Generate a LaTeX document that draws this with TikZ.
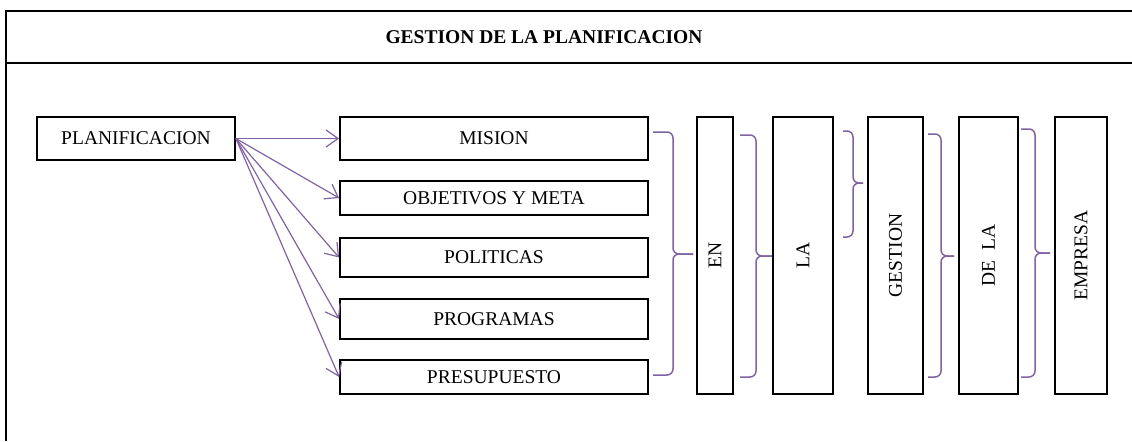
\documentclass[tikz,border=0pt]{standalone}
\usepackage{fontspec}
\setmainfont{Liberation Serif}
\usetikzlibrary{arrows.meta}
\definecolor{wordpurple}{RGB}{128,100,162}

\begin{document}
\begin{tikzpicture}[x=0.5pt, y=-0.5pt,
  every node/.style={font=\fontsize{9.75}{12}\selectfont},
  box/.style={draw, line width=0.9pt, inner sep=0pt, align=center},
  wordbox/.style={box, rotate=90, minimum width=138.5pt},
  arrow/.style={-{Straight Barb[length=6pt, width=8.5pt]}, wordpurple, line width=0.6pt},
  brace/.style={wordpurple, line width=0.75pt, rounded corners=3pt}]

  \useasboundingbox (0,0) rectangle (1132,441);

  %% Frame and title
  \draw[line width=0.9pt] (1132,11) -- (6,11) -- (6,441);
  \draw[line width=0.9pt] (6,63) -- (1132,63);
  \node[font=\fontsize{9.75}{12}\selectfont\bfseries] (title) at (544,37) {GESTION DE LA PLANIFICACION};

  %% Left: planificacion and its parts
  \node[box, minimum width=99pt, minimum height=21.5pt] (plan) at (136,138.5) {PLANIFICACION};
  \node[box, minimum width=154pt, minimum height=21.5pt] (mision) at (494,138.5) {MISION};
  \node[box, minimum width=154pt, minimum height=17pt] (objetivos) at (494,198) {OBJETIVOS Y META};
  \node[box, minimum width=154pt, minimum height=19.5pt] (politicas) at (494,257.5) {POLITICAS};
  \node[box, minimum width=154pt, minimum height=20pt] (programas) at (494,319) {PROGRAMAS};
  \node[box, minimum width=154pt, minimum height=17pt] (presupuesto) at (494,377) {PRESUPUESTO};

  \foreach \t in {mision,objetivos,politicas,programas,presupuesto}
    \draw[arrow] (plan.east) -- (\t.west);

  %% Right: the words read upwards
  \node[wordbox, minimum height=18pt] (en) at (715,255.5) {EN};
  \node[wordbox, minimum height=30pt] (la) at (803,255.5) {LA};
  \node[wordbox, minimum height=27.5pt] (gestion) at (895.5,255.5) {GESTION};
  \node[wordbox, minimum height=29.5pt] (dela) at (988.5,255.5) {DE \ LA};
  \node[wordbox, minimum height=26pt] (empresa) at (1081,255.5) {EMPRESA};

  % Braces (start x / spine x / tip x / top y / middle y / bottom y)
  \foreach \a/\b/\c/\ya/\ym/\yb in {653/673/693/132/254/375, 740/756/772/135/256/377,
      843/853/863/131/183/237, 928/941/954/134/256/377, 1021/1035/1050/129/253/377} {
    \draw[brace] (\a,\ya) -| (\b,\ym) -- (\c,\ym);
    \draw[brace] (\a,\yb) -| (\b,\ym) -- (\c,\ym);
  }

\end{tikzpicture}
\end{document}
